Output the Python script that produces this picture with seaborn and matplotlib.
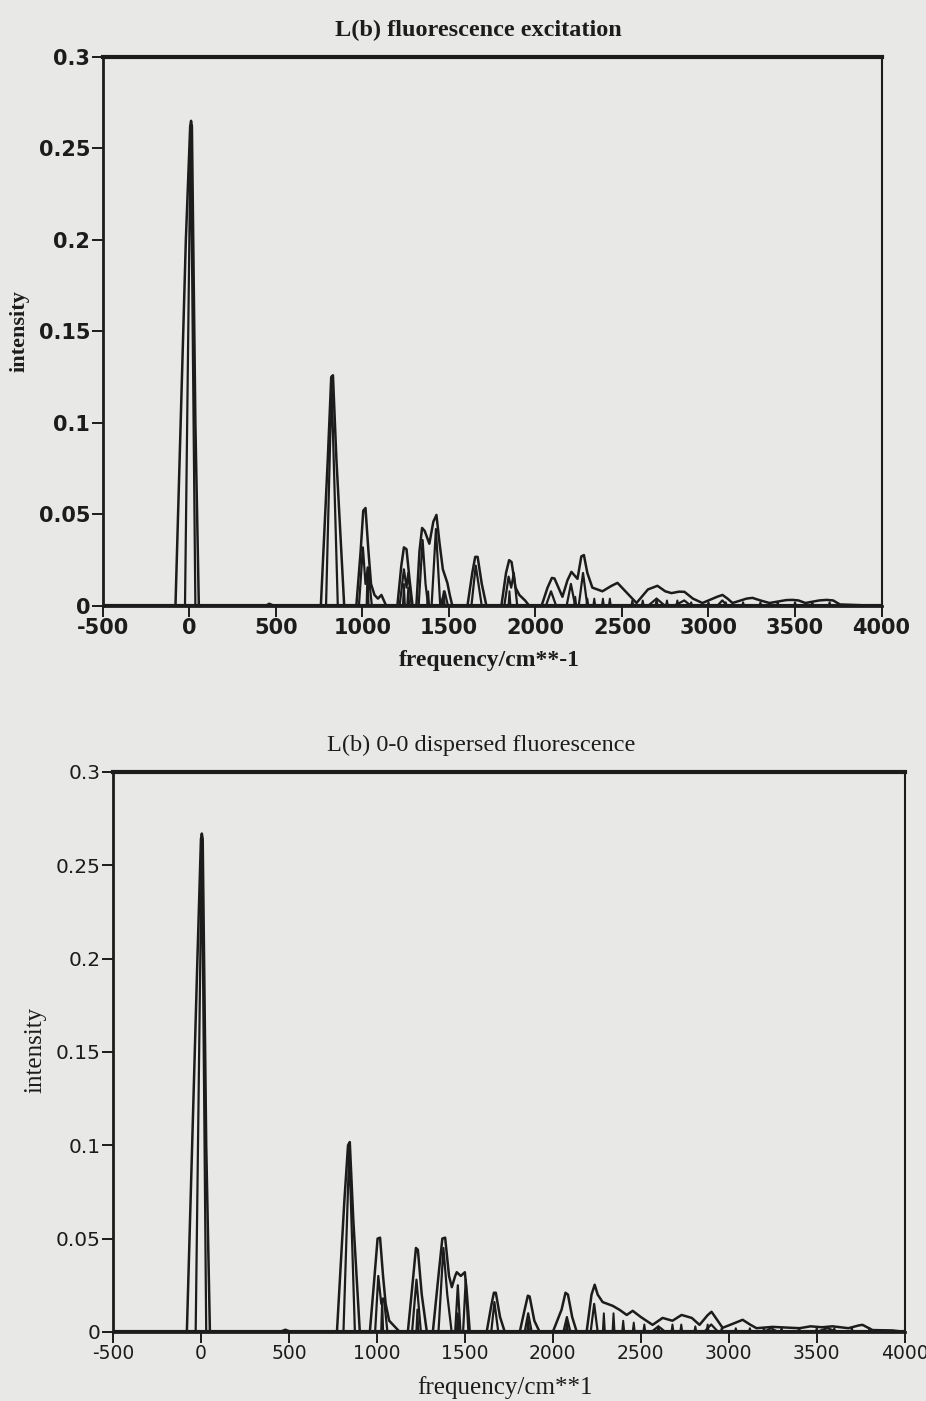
import matplotlib
matplotlib.use("Agg")
import matplotlib.pyplot as plt
import seaborn as sns

# ---- top panel: L(b) fluorescence excitation ----
exc_broad_x = [-500, -80, -20, 5, 10, 15, 35, 55, 440, 462, 490,
               760, 800, 820, 830, 850, 895,
               965, 990, 1005, 1018, 1035, 1050, 1070, 1090, 1110, 1138,
               1202, 1225, 1240, 1255, 1272, 1290,
               1312, 1330, 1345, 1360, 1387, 1410, 1428, 1445, 1465, 1491, 1505, 1520,
               1607, 1635, 1652, 1666, 1690, 1717,
               1803, 1830, 1848, 1862, 1885, 1907, 1940, 1965,
               2035, 2070, 2095, 2110, 2156, 2185, 2208, 2243, 2265, 2280, 2300, 2329,
               2387, 2440, 2474, 2520, 2584, 2650, 2705, 2750, 2786, 2830, 2861, 2910,
               2965, 3050, 3081, 3110, 3139, 3220, 3254, 3300, 3352, 3450, 3485, 3520,
               3560, 3640, 3682, 3720, 3760, 4000]
exc_broad_y = [0, 0, 0.2, 0.262, 0.265, 0.262, 0.1, 0, 0, 0.0012, 0,
               0, 0.08, 0.125, 0.126, 0.08, 0,
               0, 0.03, 0.052, 0.0535, 0.03, 0.012, 0.006, 0.004, 0.006, 0,
               0, 0.022, 0.032, 0.031, 0.015, 0,
               0, 0.03, 0.0426, 0.041, 0.034, 0.046, 0.0497, 0.035, 0.02, 0.0126, 0.006, 0,
               0, 0.018, 0.0268, 0.0268, 0.012, 0,
               0, 0.018, 0.025, 0.024, 0.01, 0.006, 0.003, 0,
               0, 0.01, 0.0153, 0.015, 0.005, 0.014, 0.0186, 0.0148, 0.027, 0.0278, 0.018, 0.010,
               0.008, 0.011, 0.0126, 0.008, 0.0016, 0.009, 0.011, 0.008, 0.007, 0.0078, 0.0077, 0.004,
               0.0016, 0.005, 0.006, 0.004, 0.0016, 0.004, 0.0044, 0.003, 0.0016, 0.0032, 0.0033, 0.003,
               0.0016, 0.003, 0.0033, 0.003, 0.0008, 0]
exc_med_x = [-500, -25, 8, 35, 790, 822, 858, 980, 1003, 1018, 1032, 1055, 1215, 1240, 1255, 1265,
             1285, 1325, 1348, 1365, 1380, 1400, 1425, 1450, 1475, 1495, 1630, 1655, 1690,
             1820, 1845, 1860, 1875, 1895, 2060, 2090, 2120, 2180, 2205, 2230, 2250, 2275, 2300,
             2650, 2700, 2750, 2800, 2860, 2900, 3050, 3080, 3110, 4000]
exc_med_y = [0, 0, 0.262, 0, 0, 0.122, 0, 0, 0.032, 0.012, 0.021, 0, 0, 0.02, 0.01, 0.018,
             0, 0, 0.036, 0.012, 0, 0, 0.042, 0, 0.008, 0, 0, 0.022, 0,
             0, 0.016, 0.01, 0.018, 0, 0, 0.008, 0, 0, 0.012, 0, 0, 0.018, 0,
             0, 0.004, 0, 0, 0.003, 0, 0, 0.003, 0, 0]
exc_stick_pos = [1030, 1240, 1265, 1380, 1470, 1850, 2230, 2300, 2340, 2390, 2430, 2560,
                 2620, 2700, 2760, 2820, 2900, 3000, 3100, 3200, 3300, 3400, 3500, 3600, 3700]
exc_stick_h = [0.021, 0.012, 0.010, 0.008, 0.008, 0.008, 0.005, 0.004, 0.004, 0.004, 0.004,
               0.003, 0.003, 0.004, 0.003, 0.003, 0.002, 0.002, 0.002, 0.002, 0.002, 0.002,
               0.002, 0.002, 0.002]

# ---- bottom panel: L(b) 0-0 dispersed fluorescence ----
dis_broad_x = [-500, -80, -20, 0, 5, 10, 30, 51, 450, 480, 510,
               773, 815, 836, 846, 866, 903,
               960, 985, 1004, 1018, 1035, 1050, 1070, 1090, 1130,
               1176, 1205, 1222, 1233, 1255, 1284,
               1318, 1350, 1372, 1388, 1410, 1426, 1445, 1454, 1477, 1500, 1512, 1528,
               1624, 1650, 1665, 1676, 1700, 1727,
               1812, 1840, 1858, 1868, 1895, 1925,
               2000, 2050, 2072, 2086, 2110, 2136,
               2192, 2220, 2238, 2255, 2283, 2340, 2380, 2420, 2454, 2500,
               2567, 2624, 2680, 2732, 2790, 2834, 2880, 2902, 2930, 2965,
               3040, 3079, 3120, 3158, 3249, 3402, 3465, 3530, 3590, 3680, 3740, 3760, 3817, 3930, 4000]
dis_broad_y = [0, 0, 0.2, 0.264, 0.267, 0.264, 0.1, 0, 0, 0.0012, 0,
               0, 0.07, 0.1, 0.1017, 0.06, 0,
               0, 0.028, 0.05, 0.0505, 0.03, 0.015, 0.006, 0.004, 0,
               0, 0.028, 0.045, 0.044, 0.02, 0,
               0, 0.03, 0.05, 0.0505, 0.03, 0.024, 0.03, 0.032, 0.030, 0.032, 0.02, 0,
               0, 0.014, 0.021, 0.021, 0.008, 0,
               0, 0.012, 0.0194, 0.019, 0.006, 0,
               0, 0.012, 0.021, 0.02, 0.008, 0,
               0, 0.02, 0.0253, 0.02, 0.016, 0.014, 0.0118, 0.0091, 0.0113, 0.008,
               0.0038, 0.0075, 0.006, 0.0091, 0.0075, 0.0038, 0.009, 0.0108, 0.007, 0.0022,
               0.005, 0.0065, 0.004, 0.002, 0.0027, 0.002, 0.003, 0.0025, 0.003, 0.002, 0.0035, 0.0038,
               0.001, 0.0008, 0]
dis_med_x = [-500, -30, 5, 30, 810, 843, 875, 990, 1008, 1025, 1040, 1060, 1200, 1225, 1250,
             1350, 1378, 1400, 1425, 1445, 1460, 1475, 1490, 1505, 1520, 1650, 1668, 1690,
             1840, 1860, 1880, 2060, 2080, 2100, 2215, 2235, 2255, 2560, 2600, 2640, 2860,
             2900, 2940, 3200, 3240, 3280, 3500, 3560, 3620, 4000]
dis_med_y = [0, 0, 0.265, 0, 0, 0.098, 0, 0, 0.030, 0.015, 0.018, 0, 0, 0.028, 0,
             0, 0.045, 0.020, 0, 0, 0.025, 0, 0, 0.028, 0, 0, 0.016, 0,
             0, 0.010, 0, 0, 0.008, 0, 0, 0.015, 0, 0, 0.003, 0, 0,
             0.004, 0, 0, 0.002, 0, 0, 0.002, 0, 0]
dis_stick_pos = [1030, 1230, 1460, 1860, 2080, 2290, 2345, 2400, 2460, 2520, 2600, 2680,
                 2730, 2810, 2880, 2960, 3040, 3120, 3200, 3300, 3400, 3500, 3600, 3700, 3800]
dis_stick_h = [0.018, 0.012, 0.010, 0.006, 0.006, 0.010, 0.010, 0.006, 0.005, 0.004, 0.003,
               0.004, 0.004, 0.003, 0.004, 0.002, 0.002, 0.002, 0.002, 0.002, 0.002, 0.002,
               0.002, 0.002, 0.002]

x_ticks = [-500, 0, 500, 1000, 1500, 2000, 2500, 3000, 3500, 4000]
x_labels = ["-500", "0", "500", "1000", "1500", "2000", "2500", "3000", "3500", "4000"]
y_ticks = [0, 0.05, 0.1, 0.15, 0.2, 0.25, 0.3]
y_labels = ["0", "0.05", "0.1", "0.15", "0.2", "0.25", "0.3"]

bg = "#e8e8e6"
ink = "#1c1c1c"

sns.set_style("ticks")
plt.rcParams["font.family"] = ["DejaVu Sans"]
plt.rcParams["axes.unicode_minus"] = False

fig = plt.figure(figsize=(9.26, 14.01), dpi=100, facecolor=bg)
ax1 = fig.add_axes([0.111, 0.5675, 0.841, 0.392])
ax2 = fig.add_axes([0.122, 0.0493, 0.855, 0.3997])


def draw_panel(ax, bx, by, mx, my, spos, sh, bold):
    ax.set_facecolor(bg)
    sns.lineplot(x=bx, y=by, ax=ax, color=ink, lw=1.8, sort=False, estimator=None)
    sns.lineplot(x=mx, y=my, ax=ax, color=ink, lw=1.6, sort=False, estimator=None)
    for p, h in zip(spos, sh):
        ax.plot([p - 6, p, p + 6], [0, h, 0], color=ink, lw=1.4)
    ax.axhline(0, color=ink, lw=3)
    ax.set_xlim(-500, 4000)
    ax.set_ylim(0, 0.3)
    ax.set_xticks(x_ticks)
    ax.set_xticklabels(x_labels)
    ax.set_yticks(y_ticks)
    ax.set_yticklabels(y_labels)
    w = "bold" if bold else "normal"
    ax.tick_params(axis="both", direction="out", length=8, width=1.4, color=ink,
                   labelcolor=ink, pad=1)
    ax.tick_params(axis="x", labelsize=15 if bold else 13.5)
    ax.tick_params(axis="y", labelsize=15 if bold else 14.5)
    for lab in ax.get_xticklabels() + ax.get_yticklabels():
        lab.set_fontweight(w)
    for side, lw in [("left", 2.0), ("top", 3.0), ("right", 1.5), ("bottom", 2.0)]:
        ax.spines[side].set_visible(True)
        ax.spines[side].set_linewidth(lw)
        ax.spines[side].set_color(ink)
    ax.set_xlabel("")
    ax.set_ylabel("")


draw_panel(ax1, exc_broad_x, exc_broad_y, exc_med_x, exc_med_y,
           exc_stick_pos, exc_stick_h, True)
draw_panel(ax2, dis_broad_x, dis_broad_y, dis_med_x, dis_med_y,
           dis_stick_pos, dis_stick_h, False)

serif = ["Liberation Serif", "DejaVu Serif"]
fig.text(0.517, 1 - 30 / 1401, "L(b) fluorescence excitation", ha="center", va="center",
         fontsize=17.5, fontweight="bold", family=serif, color=ink)
fig.text(0.528, 1 - 661 / 1401, "frequency/cm**-1", ha="center", va="center",
         fontsize=17, fontweight="bold", family=serif, color=ink)
fig.text(0.021, 1 - 331 / 1401, "intensity", ha="center", va="center", rotation=90,
         fontsize=16, fontweight="bold", family=serif, color=ink)
fig.text(0.52, 1 - 745 / 1401, "L(b) 0-0 dispersed fluorescence", ha="center", va="center",
         fontsize=17.5, family=serif, color=ink)
fig.text(0.545, 1 - 1388 / 1401, "frequency/cm**1", ha="center", va="center",
         fontsize=18, family=serif, color=ink)
fig.text(0.038, 1 - 1050 / 1401, "intensity", ha="center", va="center", rotation=90,
         fontsize=18, family=serif, color=ink)

fig.savefig("out.png", dpi=100, facecolor=bg)
